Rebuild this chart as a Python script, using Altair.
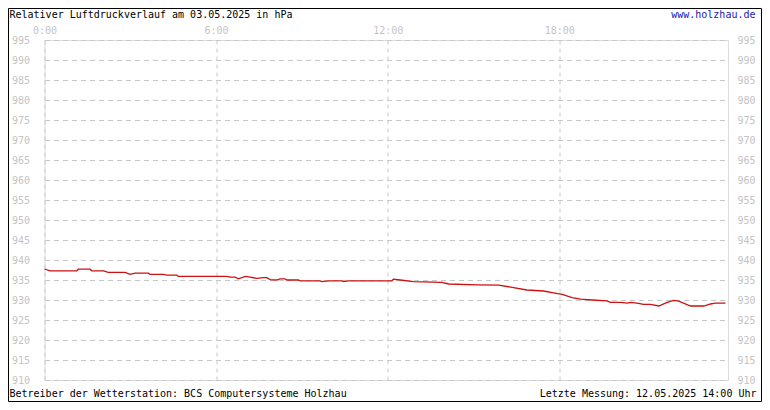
import altair as alt
import pandas as pd

hours = [0.0, 0.19, 1.13, 1.18, 1.59, 1.65, 2.06, 2.23, 2.82, 2.99, 3.17, 3.63, 3.69,
         4.16, 4.27, 4.63, 4.68, 6.37, 6.49, 6.67, 6.78, 7.02, 7.19, 7.42, 7.66, 7.77,
         7.89, 8.12, 8.24, 8.41, 8.47, 8.88, 8.94, 9.64, 9.70, 9.93, 10.40, 10.46, 10.63,
         12.15, 12.20, 12.44, 12.90, 13.90, 14.13, 15.12, 15.88, 16.40, 16.87, 17.45,
         17.80, 18.10, 18.45, 18.74, 19.15, 19.67, 19.79, 20.14, 20.37, 20.49, 20.72,
         20.95, 21.19, 21.48, 21.77, 22.00, 22.18, 22.59, 23.05, 23.29, 23.46, 23.81]
hpa = [937.75, 937.3, 937.3, 937.7, 937.7, 937.3, 937.3, 936.9, 936.9, 936.4, 936.7, 936.7, 936.4,
       936.4, 936.2, 936.2, 935.9, 935.9, 935.7, 935.7, 935.3, 935.9, 935.7, 935.4, 935.6, 935.6,
       935.1, 935.0, 935.3, 935.3, 935.0, 935.0, 934.8, 934.8, 934.6, 934.8, 934.8, 934.6, 934.8,
       934.8, 935.2, 935.0, 934.6, 934.4, 934.0, 933.8, 933.7, 933.1, 932.5, 932.25,
       931.8, 931.4, 930.6, 930.2, 930.0, 929.8, 929.4, 929.4, 929.2, 929.4, 929.2,
       928.9, 928.9, 928.5, 929.4, 929.9, 929.7, 928.5, 928.5, 929.0, 929.2, 929.2]

x_ticks = [0, 6, 12, 18]
y_ticks = list(range(910, 1000, 5))

title_text = "Relativer Luftdruckverlauf am 03.05.2025 in hPa"
url_text = "www.holzhau.de"
footer_left = "Betreiber der Wetterstation: BCS Computersysteme Holzhau"
footer_right = "Letzte Messung: 12.05.2025 14:00 Uhr"

df = pd.DataFrame({"h": hours, "p": hpa})

FONT = "DejaVu Sans Mono"
GRID = "#c8c8c8"
LAB = "#c4c4c4"

xscale = alt.Scale(domain=[0, 23.9], nice=False, zero=False)
yscale = alt.Scale(domain=[910, 995], nice=False, zero=False)

xaxis = alt.Axis(orient="top", values=x_ticks, labelExpr="datum.value + ':00'",
                 title=None, ticks=False, domain=False, grid=True,
                 gridColor=GRID, gridDash=[4, 4], gridWidth=1,
                 labelFont=FONT, labelFontSize=10, labelColor=LAB,
                 labelPadding=5, labelFlush=False)

line_left = alt.Chart(df).mark_line(color="#cc1111", strokeWidth=1.3).encode(
    x=alt.X("h:Q", scale=xscale, axis=xaxis),
    y=alt.Y("p:Q", scale=yscale,
            axis=alt.Axis(orient="left", values=y_ticks, title=None, ticks=False,
                          domain=False, grid=True, gridColor=GRID, gridDash=[5, 4],
                          gridWidth=1, labelFont=FONT, labelFontSize=10,
                          labelColor=LAB, labelPadding=15)),
)

line_right = alt.Chart(df).mark_line(opacity=0).encode(
    x=alt.X("h:Q", scale=xscale, axis=xaxis),
    y=alt.Y("p:Q", scale=yscale,
            axis=alt.Axis(orient="right", values=y_ticks, title=None, ticks=False,
                          domain=False, grid=False, labelFont=FONT, labelFontSize=10,
                          labelColor=LAB, labelPadding=9)),
)

one = alt.Data(values=[{"a": 1}])

def txt(s, x, y, align, color):
    return alt.Chart(one).mark_text(font=FONT, fontSize=10, align=align,
                                    baseline="alphabetic", color=color).encode(
        x=alt.value(x), y=alt.value(y), text=alt.value(s))

border = alt.Chart(one).mark_rect(fill=None, stroke="black", strokeWidth=1).encode(
    x=alt.value(-36), x2=alt.value(717), y=alt.value(-31.5), y2=alt.value(361.5))

chart = alt.layer(
    line_left,
    line_right,
    txt(title_text, -35, -22, "left", "black"),
    txt(url_text, 711, -22, "right", "#1a1aa6"),
    txt(footer_left, -35, 357, "left", "black"),
    txt(footer_right, 712, 357, "right", "black"),
    border,
).resolve_axis(y="independent").properties(
    width=683.5, height=340,
    autosize=alt.AutoSizeParams(type="none"),
    padding={"left": 36.5, "top": 32, "right": 34, "bottom": 22},
).configure_view(stroke=None).configure(background="white")

chart.save("out.html", embed_options={"renderer": "svg", "actions": False})
